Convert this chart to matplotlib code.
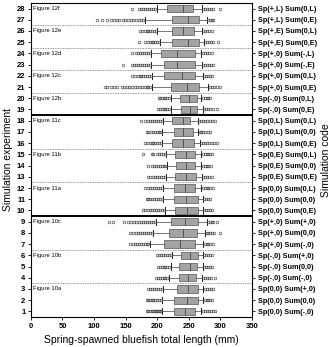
import matplotlib
matplotlib.use("Agg")
import matplotlib.pyplot as plt

plt.rcParams['font.family'] = ['Liberation Sans', 'DejaVu Sans']

# rows 1..28 (bottom to top)
codes = [
    "Sp(0,0) Sum(-,0)", "Sp(0,0) Sum(0,0)", "Sp(0,0) Sum(+,0)",
    "Sp(-,0) Sum(-,0)", "Sp(-,0) Sum(0,0)", "Sp(-,0) Sum(+,0)",
    "Sp(+,0) Sum(-,0)", "Sp(+,0) Sum(0,0)", "Sp(+,0) Sum(+,0)",
    "Sp(0,0) Sum(0,E)", "Sp(0,0) Sum(0,0)", "Sp(0,0) Sum(0,L)",
    "Sp(0,E) Sum(0,E)", "Sp(0,E) Sum(0,0)", "Sp(0,E) Sum(0,L)",
    "Sp(0,L) Sum(0,E)", "Sp(0,L) Sum(0,0)", "Sp(0,L) Sum(0,L)",
    "Sp(-,0) Sum(0,E)", "Sp(-,0) Sum(0,L)",
    "Sp(+,0) Sum(0,E)", "Sp(+,0) Sum(0,L)",
    "Sp(+,0) Sum(-,E)", "Sp(+,0) Sum(-,L)",
    "Sp(+,E) Sum(0,E)", "Sp(+,E) Sum(0,L)",
    "Sp(+,L) Sum(0,E)", "Sp(+,L) Sum(0,L)",
]

whislo = [208, 208, 209, 218, 221, 223, 188, 193, 198, 212, 209, 209, 214, 215,
          214, 208, 207, 209, 221, 221, 191, 192, 190, 190, 205, 200, 180, 200]
q1 = [227, 226, 231, 235, 235, 238, 210, 218, 222, 228, 226, 226, 228, 230,
      228, 223, 226, 223, 238, 236, 221, 210, 211, 206, 224, 223, 224, 216]
med = [244, 247, 249, 249, 252, 252, 236, 241, 244, 247, 246, 244, 246, 246,
       246, 241, 241, 240, 252, 251, 247, 239, 232, 232, 248, 240, 249, 240]
q3 = [260, 264, 264, 261, 263, 264, 260, 263, 265, 264, 264, 260, 261, 260,
      260, 258, 256, 252, 263, 263, 266, 260, 260, 260, 266, 258, 266, 256]
whishi = [270, 272, 273, 271, 272, 272, 273, 276, 278, 272, 272, 270, 271, 270,
          270, 268, 265, 264, 272, 270, 281, 272, 271, 270, 274, 271, 279, 271]

fliers = [
    [206, 204, 202, 200, 198, 196, 194, 191, 188, 186, 183, 273, 276, 279, 282, 285, 288, 292],
    [206, 203, 200, 197, 194, 191, 188, 185, 183, 275, 278, 281, 284, 287],
    [207, 204, 201, 198, 195, 192, 189, 186, 276, 279, 282, 285, 288],
    [216, 213, 210, 207, 204, 201, 198, 273, 276, 279, 282, 285, 292],
    [219, 216, 213, 210, 207, 204, 201, 274, 277, 280, 283, 286],
    [221, 218, 215, 212, 209, 206, 203, 200, 274, 277, 280, 283, 286],
    [186, 183, 180, 177, 174, 171, 168, 165, 161, 157, 275, 278, 281, 284, 288],
    [191, 188, 185, 182, 179, 176, 173, 170, 166, 162, 157, 278, 281, 284, 287, 290, 300],
    [196, 193, 190, 187, 184, 181, 178, 175, 171, 167, 163, 158, 153, 147, 130, 124,
     280, 283, 286, 289, 294],
    [210, 207, 204, 201, 198, 195, 192, 189, 185, 181, 178, 274, 277, 280, 283, 286],
    [207, 204, 201, 198, 195, 192, 189, 186, 183, 274, 277, 280, 283],
    [207, 204, 201, 198, 195, 192, 189, 185, 181, 272, 275, 278, 281, 284, 289],
    [212, 209, 206, 203, 200, 197, 193, 189, 186, 273, 276, 279, 282, 286],
    [213, 210, 207, 204, 201, 198, 195, 191, 186, 272, 275, 278, 281, 285],
    [212, 209, 206, 203, 200, 194, 191, 178, 272, 275, 278, 281, 284, 287],
    [206, 203, 200, 197, 194, 191, 188, 184, 181, 270, 273, 276, 279, 282, 286, 290, 294],
    [205, 202, 199, 196, 193, 190, 186, 183, 267, 270, 273, 276, 280, 284],
    [207, 204, 201, 198, 195, 192, 189, 185, 180, 175, 266, 269, 272, 275, 279, 283, 286, 292],
    [219, 216, 213, 210, 207, 204, 201, 274, 277, 280, 284, 288, 294],
    [219, 216, 213, 210, 207, 204, 202, 272, 275, 278, 281, 284],
    [189, 186, 183, 180, 176, 172, 168, 164, 160, 156, 152, 148, 144, 136, 131, 126,
     121, 117, 284, 287, 290, 294, 299],
    [190, 187, 184, 181, 178, 175, 172, 169, 165, 160, 274, 277, 280, 284, 287],
    [188, 185, 182, 179, 176, 173, 170, 167, 163, 160, 146, 273, 276, 279, 282, 285, 288],
    [188, 185, 182, 179, 176, 173, 170, 166, 160, 273, 276, 279, 282, 286],
    [203, 200, 197, 194, 191, 188, 185, 181, 171, 276, 279, 282, 285, 289, 296],
    [198, 195, 192, 189, 186, 183, 180, 176, 173, 273, 276, 279, 282, 286],
    [178, 175, 171, 167, 162, 158, 154, 149, 146, 140, 136, 131, 126, 120, 112, 104,
     281, 284, 287, 289],
    [196, 193, 190, 187, 184, 181, 178, 175, 171, 160, 273, 276, 279, 282, 285, 289, 300],
]

fig_labels = {28: "Figure 12f", 26: "Figure 12e", 24: "Figure 12d", 22: "Figure 12c",
              20: "Figure 12b", 18: "Figure 11c", 15: "Figure 11b", 12: "Figure 11a",
              9: "Figure 10c", 6: "Figure 10b", 3: "Figure 10a"}
dotted = [3.5, 6.5, 12.5, 15.5, 20.5, 22.5, 24.5, 26.5]
solid = [9.5, 18.5]

stats = []
for i in range(len(codes)):
    stats.append(dict(whislo=whislo[i], q1=q1[i], med=med[i], q3=q3[i],
                      whishi=whishi[i], fliers=fliers[i]))

fig = plt.figure(figsize=(3.36, 3.47), dpi=100)
ax = fig.add_axes([0.092, 0.0865, 0.658, 0.905])

pos = list(range(1, len(codes) + 1))
ax.bxp(stats, positions=pos, vert=False, widths=0.65, patch_artist=True,
       boxprops=dict(facecolor='#a3a3a3', edgecolor='#555555', linewidth=0.5),
       medianprops=dict(color='#444444', linewidth=0.6),
       whiskerprops=dict(color='#444444', linewidth=0.5),
       capprops=dict(color='#222222', linewidth=0.7),
       capwidths=0.55,
       flierprops=dict(marker='o', markersize=2.0, markerfacecolor='none',
                       markeredgecolor='#333333', markeredgewidth=0.4))

for y in dotted:
    ax.axhline(y, color='#777777', linestyle=(0, (1, 1)), linewidth=0.6)
for y in solid:
    ax.axhline(y, color='black', linewidth=1.4)
for r, t in fig_labels.items():
    ax.text(3, r, t, fontsize=4.2, va='center', ha='left',
            bbox=dict(facecolor='white', edgecolor='none', pad=0.3))

ax.set_xlim(0, 350)
ax.set_ylim(0.5, 28.5)
ax.set_xticks([0, 50, 100, 150, 200, 250, 300, 350])
ax.set_yticks(pos)
ax.set_yticklabels([str(p) for p in pos])
ax.tick_params(axis='both', labelsize=5.5, length=2.5, width=0.6, pad=1.5)
for lab in ax.get_xticklabels() + ax.get_yticklabels():
    lab.set_fontweight('bold')
for s in ax.spines.values():
    s.set_linewidth(0.7)

ax2 = ax.twinx()
ax2.set_ylim(ax.get_ylim())
ax2.set_yticks(pos)
ax2.set_yticklabels(codes, fontsize=5.2, fontweight='bold')
ax2.tick_params(axis='y', length=2.5, width=0.6, pad=1.5)
ax2.set_ylabel("Simulation code", fontsize=7.5, labelpad=3)

ax.set_xlabel("Spring-spawned bluefish total length (mm)", fontsize=7.5, labelpad=4)
ax.set_ylabel("Simulation experiment", fontsize=7.5, labelpad=3)

fig.savefig("out.png", dpi=100)
